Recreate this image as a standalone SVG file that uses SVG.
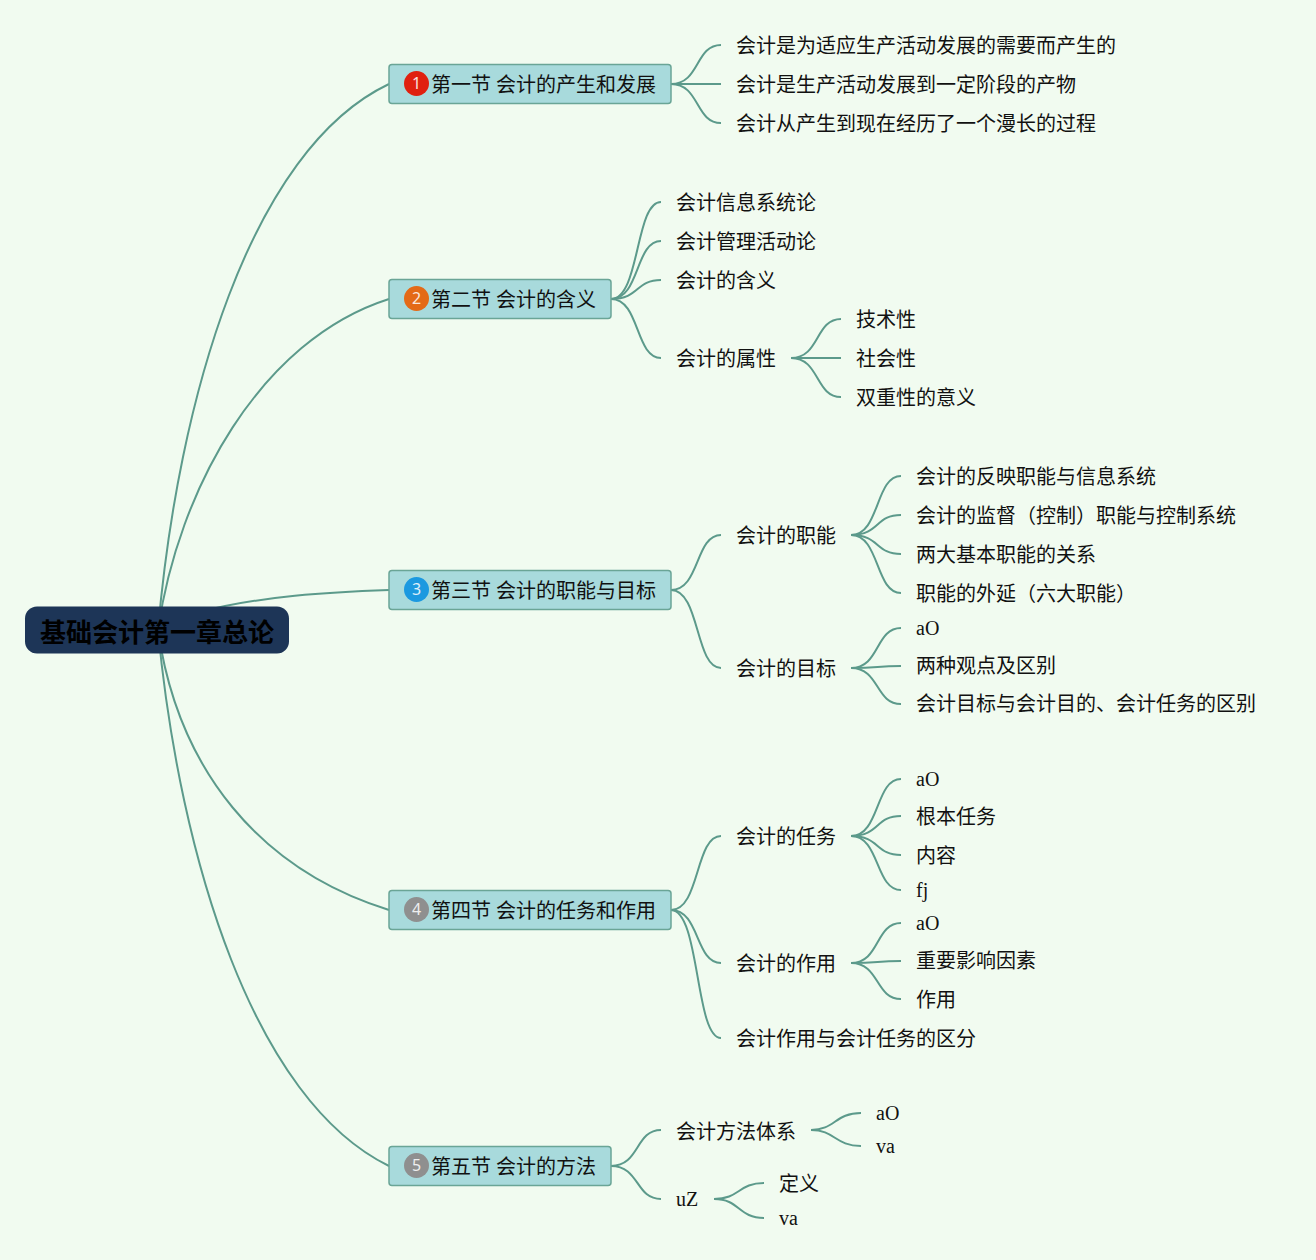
<svg xmlns="http://www.w3.org/2000/svg" width="1316" height="1260" viewBox="0 0 1316 1260">
<style>
text{font-family:"Liberation Serif","Noto Sans CJK SC",serif;font-size:20px;fill:#111}
.c{fill:none;stroke:#5c9a8b;stroke-width:2}
.s{fill:#a8dadc;stroke:#6aa596;stroke-width:1.5}
.n{font-family:"Noto Sans","Liberation Sans",sans-serif;font-size:16px;fill:#fff;text-anchor:middle;opacity:.85}
</style>
<rect width="1316" height="1260" fill="#f1fbf0"/>
<g id="connectors">
<path class="c" d="M158 630C178 400 250 150 389 84"/>
<path class="c" d="M158 630C178 490 260 340 389 299"/>
<path class="c" d="M200 612C260 596 330 592 389 590"/>
<path class="c" d="M158 630C178 770 260 870 389 910"/>
<path class="c" d="M158 630C180 860 254 1100 389 1166"/>
<path class="c" d="M671 84C700 84 695 45 721 45"/>
<path class="c" d="M671 84H721"/>
<path class="c" d="M671 84C700 84 695 123 721 123"/>
<path class="c" d="M611 299C640 299 635 202 661 202"/>
<path class="c" d="M611 299C640 299 635 241 661 241"/>
<path class="c" d="M611 299C640 299 635 280 661 280"/>
<path class="c" d="M611 299C640 299 635 358 661 358"/>
<path class="c" d="M791 358C820 358 815 319 841 319"/>
<path class="c" d="M791 358H841"/>
<path class="c" d="M791 358C820 358 815 397 841 397"/>
<path class="c" d="M671 590C700 590 695 535 721 535"/>
<path class="c" d="M671 590C700 590 695 668 721 668"/>
<path class="c" d="M851 535C880 535 875 476 901 476"/>
<path class="c" d="M851 535C880 535 875 515 901 515"/>
<path class="c" d="M851 535C880 535 875 554 901 554"/>
<path class="c" d="M851 535C880 535 875 593 901 593"/>
<path class="c" d="M851 668C880 668 875 628 901 628"/>
<path class="c" d="M851 668C880 668 875 666 901 666"/>
<path class="c" d="M851 668C880 668 875 704 901 704"/>
<path class="c" d="M671 910C700 910 695 836 721 836"/>
<path class="c" d="M671 910C700 910 695 963 721 963"/>
<path class="c" d="M671 910C700 910 695 1038 721 1038"/>
<path class="c" d="M851 836C880 836 875 779 901 779"/>
<path class="c" d="M851 836C880 836 875 816 901 816"/>
<path class="c" d="M851 836C880 836 875 855 901 855"/>
<path class="c" d="M851 836C880 836 875 890 901 890"/>
<path class="c" d="M851 963C880 963 875 923 901 923"/>
<path class="c" d="M851 963C880 963 875 961 901 961"/>
<path class="c" d="M851 963C880 963 875 999 901 999"/>
<path class="c" d="M611 1166C640 1166 635 1130 661 1130"/>
<path class="c" d="M611 1166C640 1166 635 1199 661 1199"/>
<path class="c" d="M811 1130C835 1130 835 1113 861 1113"/>
<path class="c" d="M811 1130C835 1130 835 1146 861 1146"/>
<path class="c" d="M714 1199C740 1199 738 1183 764 1183"/>
<path class="c" d="M714 1199C740 1199 738 1218 764 1218"/>
</g>
<g id="root"><rect x="25" y="606.500" width="264" height="47" rx="12" fill="#1d3557"/><text x="40" y="642" style="font-size:26px;font-weight:bold;fill:#000">基础会计第一章总论</text></g>
<g id="s1"><rect class="s" x="389" y="64.500" width="282" height="39" rx="3"/><circle cx="416.500" cy="83.500" r="12.500" fill="#e0200f"/><text class="n" x="416.500" y="89">1</text><text x="431" y="92">第一节 会计的产生和发展</text></g>
<g id="s2"><rect class="s" x="389" y="279.500" width="222" height="39" rx="3"/><circle cx="416.500" cy="298.500" r="12.500" fill="#e46a17"/><text class="n" x="416.500" y="304">2</text><text x="431" y="307">第二节 会计的含义</text></g>
<g id="s3"><rect class="s" x="389" y="570.500" width="282" height="39" rx="3"/><circle cx="416.500" cy="589.500" r="12.500" fill="#1b99e0"/><text class="n" x="416.500" y="595">3</text><text x="431" y="598">第三节 会计的职能与目标</text></g>
<g id="s4"><rect class="s" x="389" y="890.500" width="282" height="39" rx="3"/><circle cx="416.500" cy="909.500" r="12.500" fill="#8f8f8f"/><text class="n" x="416.500" y="915">4</text><text x="431" y="918">第四节 会计的任务和作用</text></g>
<g id="s5"><rect class="s" x="389" y="1146.500" width="222" height="39" rx="3"/><circle cx="416.500" cy="1165.500" r="12.500" fill="#8f8f8f"/><text class="n" x="416.500" y="1171">5</text><text x="431" y="1174">第五节 会计的方法</text></g>
<g id="n1"><text x="736" y="53">会计是为适应生产活动发展的需要而产生的</text></g>
<g id="n2"><text x="736" y="92">会计是生产活动发展到一定阶段的产物</text></g>
<g id="n3"><text x="736" y="131">会计从产生到现在经历了一个漫长的过程</text></g>
<g id="n4"><text x="676" y="210">会计信息系统论</text></g>
<g id="n5"><text x="676" y="249">会计管理活动论</text></g>
<g id="n6"><text x="676" y="288">会计的含义</text></g>
<g id="n7"><text x="676" y="366">会计的属性</text></g>
<g id="n8"><text x="856" y="327">技术性</text></g>
<g id="n9"><text x="856" y="366">社会性</text></g>
<g id="n10"><text x="856" y="405">双重性的意义</text></g>
<g id="n11"><text x="736" y="543">会计的职能</text></g>
<g id="n12"><text x="736" y="676">会计的目标</text></g>
<g id="n13"><text x="916" y="484">会计的反映职能与信息系统</text></g>
<g id="n14"><text x="916" y="523">会计的监督（控制）职能与控制系统</text></g>
<g id="n15"><text x="916" y="562">两大基本职能的关系</text></g>
<g id="n16"><text x="916" y="601">职能的外延（六大职能）</text></g>
<g id="n17"><text x="916" y="635">aO</text></g>
<g id="n18"><text x="916" y="673">两种观点及区别</text></g>
<g id="n19"><text x="916" y="711">会计目标与会计目的、会计任务的区别</text></g>
<g id="n20"><text x="736" y="844">会计的任务</text></g>
<g id="n21"><text x="736" y="971">会计的作用</text></g>
<g id="n22"><text x="736" y="1046">会计作用与会计任务的区分</text></g>
<g id="n23"><text x="916" y="786">aO</text></g>
<g id="n24"><text x="916" y="824">根本任务</text></g>
<g id="n25"><text x="916" y="863">内容</text></g>
<g id="n26"><text x="916" y="897">fj</text></g>
<g id="n27"><text x="916" y="930">aO</text></g>
<g id="n28"><text x="916" y="968">重要影响因素</text></g>
<g id="n29"><text x="916" y="1007">作用</text></g>
<g id="n30"><text x="676" y="1139">会计方法体系</text></g>
<g id="n31"><text x="876" y="1120">aO</text></g>
<g id="n32"><text x="876" y="1153">va</text></g>
<g id="n33"><text x="676" y="1206">uZ</text></g>
<g id="n34"><text x="779" y="1191">定义</text></g>
<g id="n35"><text x="779" y="1225">va</text></g>
</svg>
